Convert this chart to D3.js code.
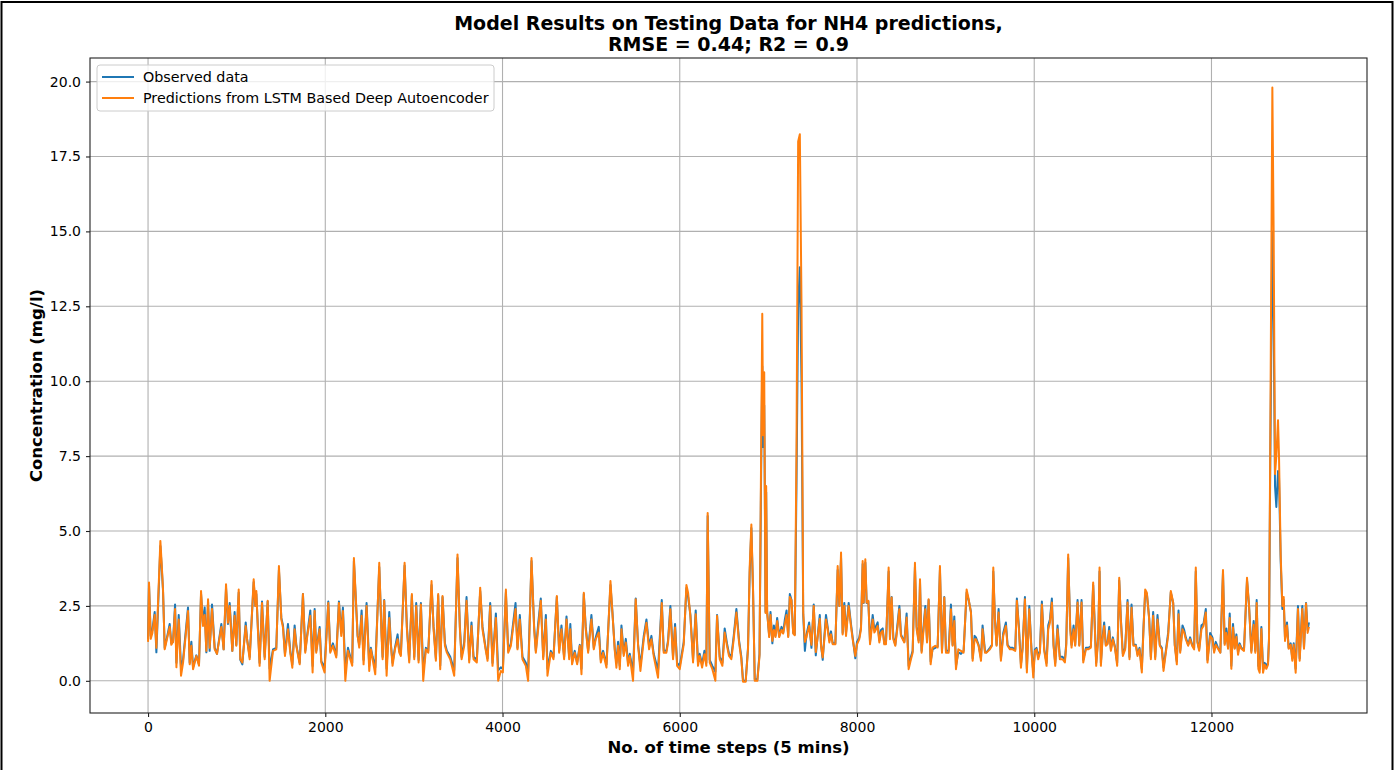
<!DOCTYPE html>
<html><head><meta charset="utf-8">
<script src="https://cdn.jsdelivr.net/npm/d3@7"></script>
<style>
html,body{margin:0;padding:0;background:#fff;}
text{font-family:"DejaVu Sans",sans-serif;}
</style></head>
<body><svg id="chart" width="1398" height="770"></svg>
<script>
const titleLines = ["Model Results on Testing Data for NH4 predictions,", "RMSE = 0.44; R2 = 0.9"];
const xLabel = "No. of time steps (5 mins)";
const yLabel = "Concentration (mg/l)";
const seriesNames = ["Observed data", "Predictions from LSTM Based Deep Autoencoder"];
const xTicks = [0, 2000, 4000, 6000, 8000, 10000, 12000];
const yTicks = [0, 2.5, 5, 7.5, 10, 12.5, 15, 17.5, 20];

const steps = [0,11,30,49,75,94,139,154,169,188,214,244,263,282,305,320,346,372,395,451,470,489,508,545,575,598,620,639,658,677,695,722,752,778,827,853,880,902,921,951,977,996,1023,1041,1064,1102,1117,1147,1192,1211,1222,1241,1259,1286,1316,1350,1372,1410,1447,1477,1504,1523,1545,1579,1605,1628,1654,1673,1711,1748,1774,1797,1831,1857,1880,1898,1936,1955,1992,2034,2056,2086,2124,2154,2180,2199,2226,2256,2282,2304,2323,2365,2383,2410,2432,2466,2496,2515,2534,2564,2609,2635,2647,2665,2692,2722,2741,2759,2786,2816,2835,2853,2895,2921,2947,2977,3004,3026,3053,3079,3105,3135,3162,3199,3222,3248,3274,3297,3323,3350,3372,3410,3455,3492,3519,3538,3568,3594,3624,3650,3673,3710,3748,3774,3812,3831,3861,3887,3925,3951,3981,4004,4038,4064,4094,4117,4147,4169,4195,4225,4263,4289,4327,4357,4376,4402,4432,4459,4489,4507,4545,4575,4613,4639,4665,4695,4722,4752,4765,4785,4815,4842,4872,4891,4917,4939,4966,5003,5030,5052,5086,5109,5135,5173,5218,5240,5267,5285,5304,5323,5342,5368,5391,5417,5436,5473,5503,5530,5556,5594,5624,5654,5680,5706,5755,5797,5819,5849,5868,5894,5924,5947,5970,6000,6045,6075,6094,6120,6150,6180,6206,6225,6252,6278,6300,6315,6338,6368,6402,6421,6451,6481,6507,6533,6556,6582,6609,6639,6669,6695,6714,6744,6770,6789,6808,6827,6846,6876,6900,6919,6931,6941,6953,6960,6968,6975,6986,7009,7024,7045,7062,7080,7099,7122,7148,7167,7186,7205,7224,7242,7261,7280,7298,7317,7336,7355,7374,7393,7412,7430,7460,7486,7512,7535,7561,7580,7594,7613,7632,7650,7669,7688,7707,7726,7756,7782,7801,7820,7838,7857,7876,7906,7932,7951,7981,8000,8026,8045,8064,8075,8094,8109,8128,8147,8177,8196,8233,8252,8271,8290,8308,8327,8357,8372,8391,8410,8432,8459,8478,8496,8534,8560,8583,8609,8628,8654,8673,8696,8711,8729,8752,8771,8790,8808,8831,8853,8883,8910,8936,8959,8985,9004,9034,9060,9079,9098,9117,9143,9173,9203,9237,9260,9286,9305,9327,9342,9372,9399,9417,9444,9462,9500,9523,9538,9556,9575,9598,9624,9650,9680,9699,9726,9756,9786,9804,9827,9850,9868,9895,9917,9944,9970,9989,10008,10026,10045,10064,10086,10113,10139,10158,10177,10199,10218,10237,10263,10289,10320,10346,10361,10383,10406,10421,10444,10462,10489,10508,10534,10553,10583,10609,10639,10665,10684,10699,10722,10737,10752,10771,10789,10808,10827,10846,10865,10887,10910,10936,10959,10977,11000,11026,11053,11075,11098,11120,11147,11165,11188,11214,11233,11252,11271,11297,11316,11342,11365,11391,11417,11440,11459,11485,11511,11541,11568,11586,11609,11628,11647,11673,11692,11710,11737,11759,11782,11804,11823,11842,11861,11887,11910,11936,11955,11985,12011,12030,12048,12074,12100,12130,12149,12168,12187,12206,12224,12243,12262,12281,12300,12318,12337,12367,12401,12424,12450,12476,12495,12510,12529,12544,12563,12582,12600,12619,12638,12649,12664,12687,12702,12717,12732,12751,12762,12781,12800,12815,12830,12852,12871,12894,12912,12928,12950,12976,12995,13025,13044,13067,13085,13100];

const predicted = [1.3,3.28,1.4,1.6,2.2,1.1,4.67,3.9,3.05,1.05,1.4,1.8,1.2,1.3,2.4,0.45,2.05,0.17,0.6,2.33,0.55,1.17,0.39,0.83,0.5,3.0,1.83,2.2,1.0,2.72,1.1,2.4,1.05,0.9,1.8,1.05,3.22,1.94,2.5,1.0,2.17,1.17,3.05,0.72,0.61,1.83,1.39,0.72,3.39,2.5,3.0,1.61,0.5,2.6,0.72,2.67,0.0,1.0,1.05,3.83,2.05,1.78,0.83,1.72,0.94,0.44,1.72,1.17,0.55,2.9,0.94,1.5,2.17,0.28,2.33,0.94,1.72,0.61,0.28,2.6,0.94,1.17,0.78,2.6,1.5,2.33,0.0,1.0,0.72,0.5,4.1,1.5,1.11,2.17,0.55,2.5,0.33,1.05,0.72,0.22,3.94,1.5,0.72,2.67,0.17,2.1,1.17,0.5,1.05,1.39,0.94,0.83,3.94,1.72,0.61,2.9,0.72,2.5,0.61,2.55,0.0,1.05,0.94,3.33,1.72,0.67,2.9,0.39,2.83,1.17,0.94,0.72,0.17,4.22,1.72,0.72,1.17,2.67,0.61,1.83,0.72,0.61,3.11,1.72,1.0,0.67,2.5,0.5,2.1,0.0,0.33,0.28,3.05,0.94,1.17,1.72,2.4,1.05,2.05,0.72,0.5,0.0,4.1,1.72,0.94,1.72,2.67,0.72,2.05,0.17,0.94,0.72,2.83,0.94,1.72,0.72,2.05,0.72,1.72,0.55,0.94,0.55,1.17,0.22,2.94,1.72,0.94,2.05,1.05,1.39,1.61,0.61,0.94,0.44,3.33,2.28,1.0,0.44,1.17,0.39,1.72,0.83,1.28,0.5,0.83,0.0,2.72,1.17,0.33,1.39,1.94,1.05,1.39,0.83,0.1,2.6,0.94,0.94,1.28,2.39,0.72,1.78,0.5,0.39,1.22,3.2,2.94,2.17,0.61,2.22,0.5,0.83,0.44,0.89,0.5,5.6,0.61,0.39,0.0,2.17,0.72,0.5,1.61,1.17,0.83,0.72,1.39,2.28,1.28,0.72,-0.03,-0.03,1.05,3.78,5.22,3.05,0.0,0.0,0.84,7.87,12.25,8.2,10.3,6.4,2.26,6.5,2.3,1.46,2.2,1.33,1.7,1.46,2.0,1.46,1.7,1.58,1.9,2.2,1.46,2.8,2.68,1.58,1.52,7.6,18.0,18.24,12.5,2.3,1.3,1.46,1.83,1.2,2.5,0.96,1.58,2.07,1.17,0.78,1.39,2.05,1.72,1.28,1.55,1.22,1.22,3.83,2.5,4.28,1.55,2.5,1.5,2.5,1.83,1.39,0.83,1.22,1.39,1.72,4.0,2.61,4.06,2.61,2.67,1.22,2.05,1.61,1.83,1.28,1.61,1.67,1.22,1.22,3.78,1.39,2.78,1.39,1.17,1.83,2.39,1.5,1.28,2.11,0.39,0.72,0.94,3.94,1.72,1.28,3.39,0.94,1.72,2.39,1.28,2.72,0.55,1.11,1.17,1.11,3.83,0.94,2.78,0.94,0.94,2.39,1.17,2.0,0.39,1.05,1.0,0.94,3.05,2.72,2.28,0.67,1.39,1.39,1.17,0.67,1.72,0.94,0.94,1.05,1.17,3.78,2.05,1.17,2.28,0.67,1.5,1.83,1.17,1.05,1.05,1.0,2.67,1.72,0.44,1.05,2.72,0.28,2.39,0.94,0.11,1.0,1.05,0.72,0.94,2.55,1.0,0.5,1.72,1.94,2.61,1.17,0.5,1.72,0.72,0.72,0.61,1.17,4.22,1.72,1.11,1.72,1.17,2.61,1.17,2.61,0.61,1.05,1.05,1.11,3.28,1.72,0.5,1.39,3.78,0.5,1.39,1.83,1.17,1.22,1.67,1.0,1.39,1.11,0.5,3.44,2.05,0.83,1.05,2.61,0.72,2.44,1.17,1.17,0.83,1.05,0.28,1.72,3.05,2.94,2.05,0.72,2.17,0.72,2.05,1.17,1.05,0.33,0.94,1.5,3.0,2.61,1.17,0.55,2.22,0.94,1.72,1.61,1.39,1.17,1.39,1.17,1.05,3.78,1.28,1.0,1.72,1.83,2.28,0.61,1.5,1.39,0.94,1.2,1.07,0.94,3.7,1.2,1.6,1.07,2.1,0.4,1.78,1.07,1.47,0.87,1.2,1.07,1.0,3.44,2.5,0.94,1.87,0.94,2.6,0.4,0.27,1.73,0.27,0.54,0.4,0.54,1.33,8.2,19.8,14.8,6.9,7.5,8.7,7.5,4.2,2.5,2.8,1.33,1.85,1.07,1.2,0.67,1.2,0.27,2.4,0.67,2.4,1.07,2.58,1.6,1.8];

const observed = [1.4,3.2,1.5,1.7,2.3,0.95,4.5,3.8,3.0,1.1,1.45,1.9,1.25,1.3,2.55,0.6,2.2,0.45,0.7,2.45,0.6,1.3,0.45,0.85,0.55,2.9,1.9,2.45,0.95,2.65,1.0,2.55,1.1,0.9,1.9,1.05,3.1,1.9,2.6,1.0,2.3,1.2,2.95,0.7,0.55,1.95,1.4,0.8,3.3,2.5,2.9,1.7,0.6,2.65,0.8,2.65,0.4,1.05,1.1,3.7,2.1,1.85,0.9,1.9,1.0,0.55,1.85,1.2,0.6,2.9,1.0,1.55,2.35,0.5,2.4,1.0,1.8,0.65,0.45,2.65,1.0,1.25,0.85,2.65,1.6,2.45,0.35,1.1,0.8,0.6,4.0,1.5,1.2,2.35,0.7,2.6,0.5,1.1,0.8,0.45,3.8,1.6,0.8,2.7,0.4,2.3,1.2,0.6,1.1,1.55,1.0,0.9,3.85,1.8,0.7,2.85,0.8,2.6,0.7,2.6,0.3,1.1,1.0,3.2,1.8,0.75,2.85,0.5,2.8,1.25,1.0,0.8,0.35,4.1,1.8,0.8,1.3,2.8,0.7,1.95,0.8,0.7,3.0,1.8,1.05,0.75,2.6,0.6,2.25,0.35,0.45,0.4,2.95,1.0,1.25,1.85,2.6,1.1,2.2,0.8,0.6,0.3,4.0,1.8,1.0,1.9,2.75,0.8,2.2,0.4,1.0,0.8,2.8,1.0,1.85,0.8,2.15,0.8,1.9,0.65,1.0,0.6,1.2,0.4,2.9,1.8,1.0,2.2,1.1,1.45,1.8,0.7,1.0,0.55,3.2,2.3,1.05,0.6,1.3,0.5,1.85,0.9,1.4,0.6,0.9,0.3,2.75,1.2,0.5,1.5,2.05,1.15,1.5,0.9,0.35,2.7,1.0,1.0,1.35,2.5,0.8,1.9,0.6,0.5,1.3,3.1,2.8,2.2,0.7,2.35,0.6,0.9,0.55,1.0,0.6,5.5,0.7,0.5,0.3,2.2,0.8,0.6,1.75,1.25,0.9,0.8,1.5,2.4,1.35,0.8,0.0,0.0,1.1,3.6,5.1,3.0,0.05,0.05,0.9,7.2,10.5,7.8,9.2,6.2,2.3,6.3,2.3,1.5,2.3,1.25,1.85,1.5,2.1,1.5,1.8,1.6,2.05,2.35,1.5,2.9,2.7,1.6,1.55,6.5,12.5,13.8,10.0,2.2,1.0,1.55,1.95,1.1,2.55,0.85,1.65,2.2,1.2,0.7,1.5,2.2,1.8,1.35,1.65,1.25,1.25,3.7,2.5,4.1,1.6,2.6,1.6,2.6,1.9,1.45,0.75,1.3,1.45,1.8,3.9,2.6,3.95,2.6,2.65,1.3,2.2,1.7,1.95,1.35,1.7,1.75,1.25,1.25,3.65,1.45,2.8,1.45,1.2,1.95,2.5,1.55,1.3,2.25,0.5,0.8,1.0,3.8,1.8,1.35,3.3,1.0,1.85,2.5,1.35,2.7,0.65,1.05,1.1,1.15,3.7,1.0,2.8,1.0,1.0,2.55,1.2,2.15,0.5,0.95,0.9,1.0,2.95,2.7,2.3,0.75,1.5,1.45,1.2,0.75,1.85,1.0,0.95,1.1,1.2,3.65,2.1,1.2,2.4,0.75,1.6,1.95,1.2,1.1,1.1,1.05,2.75,1.8,0.55,1.1,2.8,0.4,2.5,1.0,0.3,1.05,1.1,0.8,1.0,2.65,1.05,0.6,1.85,2.05,2.75,1.2,0.6,1.85,0.8,0.8,0.7,1.25,4.1,1.85,1.2,1.85,1.2,2.7,1.2,2.7,0.7,1.1,1.1,1.15,3.2,1.8,0.6,1.45,3.65,0.6,1.45,1.95,1.2,1.25,1.8,1.05,1.45,1.15,0.6,3.35,2.1,0.9,1.1,2.7,0.8,2.55,1.2,1.2,0.9,1.1,0.4,1.8,2.95,2.9,2.1,0.8,2.3,0.8,2.2,1.2,1.1,0.45,1.0,1.6,2.95,2.6,1.2,0.65,2.35,1.0,1.85,1.7,1.45,1.2,1.45,1.2,1.1,3.65,1.3,1.05,1.85,1.9,2.4,0.7,1.6,1.45,1.0,1.3,1.1,0.95,3.6,1.25,1.75,1.1,2.25,0.5,1.9,1.1,1.55,0.95,1.25,1.1,1.05,3.35,2.5,1.0,2.0,1.0,2.7,0.5,0.4,1.8,0.4,0.6,0.5,0.6,1.4,7.5,15.0,12.0,6.5,5.8,7.0,6.8,4.0,2.4,2.7,1.4,1.95,1.1,1.25,0.75,1.25,0.4,2.5,0.75,2.5,1.1,2.6,1.7,1.95];

const plot = {left: 90, right: 1367, top: 58, bottom: 713};
const svg = d3.select("#chart");

// figure frame
svg.append("rect").attr("x",1.5).attr("y",2).attr("width",1391).attr("height",780)
  .attr("fill","none").attr("stroke","#000").attr("stroke-width",2);

const x = d3.scaleLinear().domain([-655, 13755]).range([plot.left, plot.right]);
const y = d3.scaleLinear().domain([-1.074, 20.787]).range([plot.bottom, plot.top]);

// grid
const grid = svg.append("g");
grid.selectAll(".vg").data(xTicks).enter().append("line")
  .attr("x1", d=>x(d)).attr("x2", d=>x(d)).attr("y1", plot.top).attr("y2", plot.bottom)
  .attr("stroke","#b0b0b0").attr("stroke-width",1.1);
grid.selectAll(".hg").data(yTicks).enter().append("line")
  .attr("y1", d=>y(d)).attr("y2", d=>y(d)).attr("x1", plot.left).attr("x2", plot.right)
  .attr("stroke","#b0b0b0").attr("stroke-width",1.1);

svg.append("clipPath").attr("id","clip").append("rect")
  .attr("x",plot.left).attr("y",plot.top).attr("width",plot.right-plot.left).attr("height",plot.bottom-plot.top);

const line = d3.line().x(d=>x(d[0])).y(d=>y(d[1]));
const obsData = steps.map((s,i)=>[s, observed[i]]);
const preData = steps.map((s,i)=>[s, predicted[i]]);
const colors = ["#1f77b4", "#ff7f0e"];
svg.append("path").datum(obsData).attr("d", line).attr("fill","none")
  .attr("stroke", colors[0]).attr("stroke-width",2).attr("stroke-linejoin","round").attr("clip-path","url(#clip)");
svg.append("path").datum(preData).attr("d", line).attr("fill","none")
  .attr("stroke", colors[1]).attr("stroke-width",2).attr("stroke-linejoin","round").attr("clip-path","url(#clip)");

// axes
const xAxis = d3.axisBottom(x).tickValues(xTicks).tickFormat(d3.format("d")).tickSize(4).tickPadding(5);
const yAxis = d3.axisLeft(y).tickValues(yTicks).tickFormat(d3.format(".1f")).tickSize(4).tickPadding(5);
const gx = svg.append("g").attr("transform",`translate(0,${plot.bottom})`).call(xAxis);
const gy = svg.append("g").attr("transform",`translate(${plot.left},0)`).call(yAxis);
[gx, gy].forEach(g=>{
  g.select(".domain").remove();
  g.selectAll("text").attr("font-size","14px").attr("fill","#000").attr("font-family","DejaVu Sans");
  g.selectAll("line").attr("stroke","#222").attr("stroke-width",1.1);
});

// axes frame
svg.append("rect").attr("x",plot.left).attr("y",plot.top)
  .attr("width",plot.right-plot.left).attr("height",plot.bottom-plot.top)
  .attr("fill","none").attr("stroke","#222").attr("stroke-width",1.1);

// titles
svg.append("text").attr("x",(plot.left+plot.right)/2).attr("y",30).attr("text-anchor","middle")
  .attr("font-size","19px").attr("font-weight","bold").text(titleLines[0]);
svg.append("text").attr("x",(plot.left+plot.right)/2).attr("y",51).attr("text-anchor","middle")
  .attr("font-size","19px").attr("font-weight","bold").text(titleLines[1]);
svg.append("text").attr("x",(plot.left+plot.right)/2).attr("y",753).attr("text-anchor","middle")
  .attr("font-size","16.5px").attr("font-weight","bold").text(xLabel);
svg.append("text").attr("transform",`translate(42,${(plot.top+plot.bottom)/2}) rotate(-90)`)
  .attr("text-anchor","middle").attr("font-size","16.5px").attr("font-weight","bold").text(yLabel);

// legend
const lg = svg.append("g");
lg.append("rect").attr("x",97).attr("y",65).attr("width",397).attr("height",46).attr("rx",3)
  .attr("fill","#fff").attr("fill-opacity",0.8).attr("stroke","#cccccc").attr("stroke-width",1);
seriesNames.forEach((n,i)=>{
  const yy = 77 + i*21;
  lg.append("line").attr("x1",102).attr("x2",134).attr("y1",yy).attr("y2",yy)
    .attr("stroke",colors[i]).attr("stroke-width",2);
  lg.append("text").attr("x",143).attr("y",yy+5).attr("font-size","14.3px").text(n);
});
</script></body></html>
